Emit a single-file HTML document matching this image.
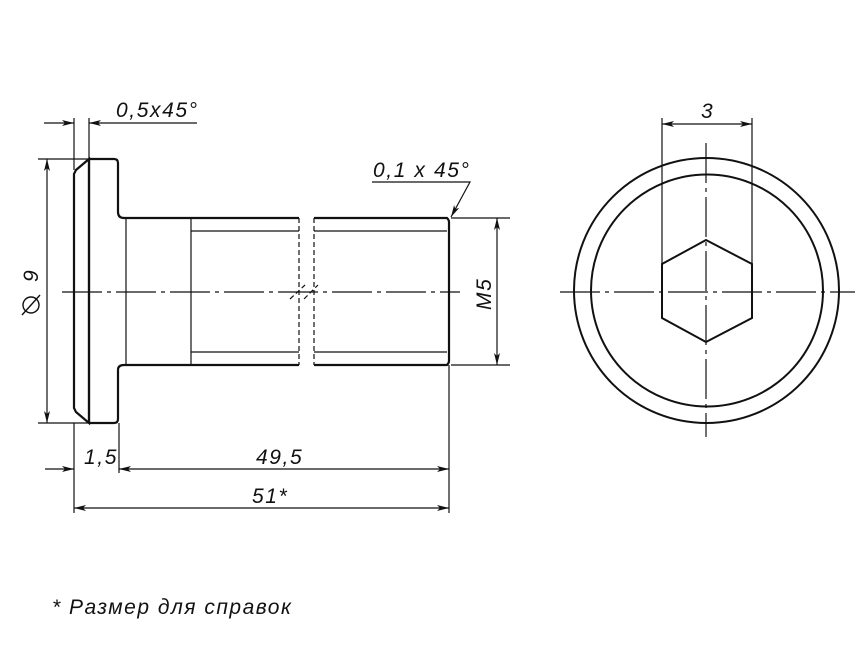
<!DOCTYPE html>
<html><head><meta charset="utf-8"><style>
html,body{margin:0;padding:0;background:#fff;}
svg{display:block;}
text{font-family:"Liberation Sans","DejaVu Sans",sans-serif;font-style:italic;fill:#111;letter-spacing:1.6px;}
</style></head><body>
<svg width="866" height="650" viewBox="0 0 866 650" xmlns="http://www.w3.org/2000/svg">
<defs>
<marker id="a" viewBox="0 0 12 6" refX="12" refY="3" markerWidth="12" markerHeight="6" orient="auto-start-reverse" markerUnits="userSpaceOnUse">
<path d="M0,0 L12,3 L0,6 L3,3 z" fill="#111"/></marker>
</defs>
<g fill="none" stroke="#111" stroke-width="2.2" stroke-linejoin="miter">
<path d="M89,159 L114,159 Q118,159 118,163 L118,212 Q118,218 124,218 L299,218"/>
<path d="M89,423 L114,423 Q118,423 118,419 L118,370 Q118,365 124,365 L299,365"/>
<path d="M89,159 L76,170 L74,174 L74,408 L76,412 L89,423 Z"/>
<line x1="89" y1="159" x2="89" y2="423"/>
<path d="M314,218 L447,218 Q449,220 449,222 L449,361 Q449,363 447,365 L314,365"/>
</g>
<g fill="none" stroke="#111" stroke-width="1.2">
<line x1="126" y1="219" x2="126" y2="364"/>
<line x1="191" y1="219" x2="191" y2="364"/>
<line x1="191" y1="231" x2="299" y2="231"/>
<line x1="191" y1="352" x2="299" y2="352"/>
<line x1="314" y1="231" x2="447" y2="231"/>
<line x1="314" y1="352" x2="447" y2="352"/>
<g stroke-dasharray="5,3">
<line x1="299" y1="218" x2="299" y2="365"/>
<line x1="314" y1="218" x2="314" y2="365"/>
<line x1="290" y1="299" x2="305" y2="285"/>
<line x1="304" y1="299" x2="318" y2="285"/>
</g>
<line x1="62" y1="292" x2="460" y2="292" stroke-dasharray="40,5,4,5"/>
<line x1="74" y1="118" x2="74" y2="170"/>
<line x1="89" y1="118" x2="89" y2="159"/>
<line x1="44" y1="123" x2="74" y2="123" marker-end="url(#a)"/>
<line x1="197" y1="123" x2="89" y2="123" marker-end="url(#a)"/>
<line x1="38" y1="159" x2="89" y2="159"/>
<line x1="38" y1="423" x2="89" y2="423"/>
<line x1="47" y1="159" x2="47" y2="423" marker-start="url(#a)" marker-end="url(#a)"/>
<polyline points="372,182 470,182 451,217" marker-end="url(#a)"/>
<line x1="451" y1="218" x2="510" y2="218"/>
<line x1="451" y1="365" x2="510" y2="365"/>
<line x1="497" y1="218" x2="497" y2="365" marker-start="url(#a)" marker-end="url(#a)"/>
<line x1="74" y1="423" x2="74" y2="513"/>
<line x1="119" y1="423" x2="119" y2="473"/>
<line x1="449" y1="365" x2="449" y2="513"/>
<line x1="45" y1="469" x2="74" y2="469" marker-end="url(#a)"/>
<line x1="119" y1="469" x2="449" y2="469" marker-start="url(#a)" marker-end="url(#a)"/>
<line x1="74" y1="508" x2="449" y2="508" marker-start="url(#a)" marker-end="url(#a)"/>
<circle cx="706.5" cy="290.5" r="132.5" stroke-width="2"/>
<circle cx="707" cy="290.5" r="116" stroke-width="2"/>
<polygon points="706,240 752,264 752,318 706,342 662,318 662,264" stroke-width="2"/>
<line x1="560" y1="292" x2="855" y2="292" stroke-dasharray="40,5,4,5"/>
<line x1="706" y1="143" x2="706" y2="437" stroke-dasharray="40,5,4,5"/>
<line x1="662" y1="118" x2="662" y2="264"/>
<line x1="752" y1="118" x2="752" y2="264"/>
<line x1="662" y1="124" x2="752" y2="124" marker-start="url(#a)" marker-end="url(#a)"/>
<circle cx="31" cy="305" r="8" stroke-width="1.4"/>
<line x1="22" y1="315" x2="40" y2="295" stroke-width="1.4"/>
</g>
<text x="116" y="117" font-size="21">0,5x45°</text>
<text x="373" y="177" font-size="21">0,1 x 45°</text>
<text x="701" y="118" font-size="21">3</text>
<text x="84" y="464" font-size="21">1,5</text>
<text x="256" y="464" font-size="21">49,5</text>
<text x="252" y="503" font-size="21">51*</text>
<text font-size="21" transform="translate(491,310) rotate(-90)">M5</text>
<text font-size="21" transform="translate(38,282) rotate(-90)">9</text>
<text x="52" y="614" font-size="21" style="letter-spacing:1.5px">* Размер для справок</text>
</svg>
</body></html>
